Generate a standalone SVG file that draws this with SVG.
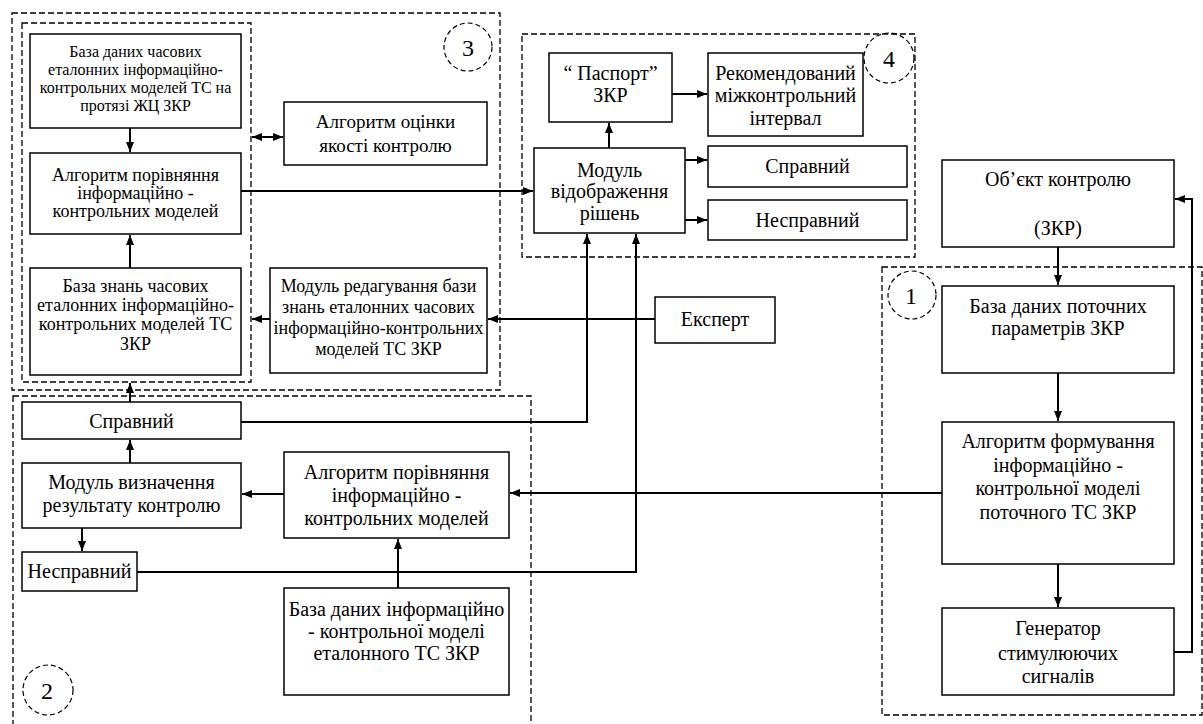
<svg xmlns="http://www.w3.org/2000/svg" width="1203" height="724" viewBox="0 0 1203 724">
<defs>
<style>
.box{fill:#fff;stroke:#000;stroke-width:1.5}
.dash{fill:none;stroke:#000;stroke-width:1.3;stroke-dasharray:6 3}
.circ{fill:none;stroke:#000;stroke-width:1.2;stroke-dasharray:5 3}
.ln{fill:none;stroke:#000;stroke-width:2}
.arr{marker-end:url(#ah)}
text{font-family:"Liberation Serif","Times New Roman",serif;fill:#000;text-anchor:middle}
.f16{font-size:16px}.f18{font-size:18px}.f19{font-size:19px}.f20{font-size:20px}.f24{font-size:24px}
</style>
<marker id="ah" viewBox="0 0 10 8" refX="10" refY="4" markerWidth="10" markerHeight="8" markerUnits="userSpaceOnUse" orient="auto-start-reverse">
<path d="M0,0 L10,4 L0,8 z" fill="#000"/>
</marker>
</defs>
<rect width="1203" height="724" fill="#fff"/>
<g id="groups">
<rect class="dash" x="12" y="13" width="488" height="377"/>
<rect class="dash" x="22" y="23" width="229" height="359"/>
<rect class="dash" x="522" y="34" width="393" height="223"/>
<rect class="dash" x="13" y="396" width="518" height="340"/>
<rect class="dash" x="882" y="267" width="320" height="448"/>
<circle class="circ" cx="468" cy="47" r="24"/><text class="f24" x="468" y="56">3</text>
<circle class="circ" cx="889" cy="58" r="25"/><text class="f24" x="889" y="67">4</text>
<circle class="circ" cx="912" cy="295" r="24"/><text class="f24" x="911" y="304">1</text>
<circle class="circ" cx="48" cy="690" r="25"/><text class="f24" x="47" y="699">2</text>
</g>
<g id="connectors">
<path class="ln arr" d="M130,128 V152"/>
<path class="ln arr" d="M130,268 V235"/>
<path class="ln arr" d="M252,137 H283" marker-start="url(#ah)"/>
<path class="ln arr" d="M241,191 H533"/>
<path class="ln arr" d="M609,148 V123"/>
<path class="ln arr" d="M672,94 H707"/>
<path class="ln arr" d="M685,160 H707"/>
<path class="ln arr" d="M685,220 H707"/>
<path class="ln arr" d="M241,422 H587 V234"/>
<path class="ln arr" d="M137,572 H636 V234"/>
<path class="ln arr" d="M655,319 H488"/>
<path class="ln arr" d="M270,319 H252"/>
<path class="ln arr" d="M130,402 V383"/>
<path class="ln arr" d="M130,463 V440"/>
<path class="ln arr" d="M284,494 H242"/>
<path class="ln arr" d="M82,528 V551"/>
<path class="ln arr" d="M398,588 V539"/>
<path class="ln arr" d="M942,493 H510"/>
<path class="ln arr" d="M1058,247 V285"/>
<path class="ln arr" d="M1058,373 V421"/>
<path class="ln arr" d="M1058,564 V607"/>
<path class="ln arr" d="M1174,652 H1192 V199 H1175"/>
</g>
<g id="n-bd-chasovykh">
<rect class="box" x="30" y="34" width="211" height="94"/>
<text class="f16" x="135.5" y="57">База даних часових</text>
<text class="f16" x="135.5" y="75">еталонних інформаційно-</text>
<text class="f16" x="135.5" y="93">контрольних моделей ТС на</text>
<text class="f16" x="135.5" y="111">протязі ЖЦ ЗКР</text>
</g>
<g id="n-alg-porivn-3">
<rect class="box" x="30" y="153" width="211" height="81"/>
<text class="f18" x="135.5" y="181">Алгоритм порівняння</text>
<text class="f18" x="135.5" y="199">інформаційно -</text>
<text class="f18" x="135.5" y="217">контрольних моделей</text>
</g>
<g id="n-bz-chasovykh">
<rect class="box" x="30" y="268" width="211" height="107"/>
<text class="f18" x="135.5" y="292">База знань часових</text>
<text class="f18" x="135.5" y="311">еталонних інформаційно-</text>
<text class="f18" x="135.5" y="330">контрольних моделей ТС</text>
<text class="f18" x="135.5" y="350">ЗКР</text>
</g>
<g id="n-alg-otsinky">
<rect class="box" x="284" y="102" width="203" height="63"/>
<text class="f19" x="385.5" y="128">Алгоритм оцінки</text>
<text class="f19" x="385.5" y="152">якості контролю</text>
</g>
<g id="n-modul-red">
<rect class="box" x="270" y="268" width="217" height="105"/>
<text class="f18" x="378.5" y="292">Модуль редагування бази</text>
<text class="f18" x="378.5" y="313">знань еталонних часових</text>
<text class="f18" x="378.5" y="334">інформаційно-контрольних</text>
<text class="f18" x="378.5" y="355">моделей ТС ЗКР</text>
</g>
<g id="n-pasport">
<rect class="box" x="549" y="53" width="123" height="69"/>
<text class="f20" x="610.5" y="80">“ Паспорт”</text>
<text class="f20" x="610.5" y="102">ЗКР</text>
</g>
<g id="n-rekom">
<rect class="box" x="708" y="53" width="155" height="83"/>
<text class="f20" x="785.5" y="80">Рекомендований</text>
<text class="f20" x="785.5" y="102">міжконтрольний</text>
<text class="f20" x="785.5" y="125">інтервал</text>
</g>
<g id="n-modul-vidobr">
<rect class="box" x="534" y="148" width="151" height="85"/>
<text class="f20" x="609.5" y="177">Модуль</text>
<text class="f20" x="609.5" y="198">відображення</text>
<text class="f20" x="609.5" y="220">рішень</text>
</g>
<g id="n-spravnyi-4">
<rect class="box" x="708" y="146" width="199" height="41"/>
<text class="f20" x="807.5" y="173">Справний</text>
</g>
<g id="n-nespravnyi-4">
<rect class="box" x="708" y="200" width="199" height="40"/>
<text class="f20" x="807.5" y="227">Несправний</text>
</g>
<g id="n-ekspert">
<rect class="box" x="655" y="297" width="120" height="46"/>
<text class="f20" x="715" y="326">Експерт</text>
</g>
<g id="n-spravnyi-2">
<rect class="box" x="22" y="402" width="219" height="37"/>
<text class="f20" x="131.5" y="428">Справний</text>
</g>
<g id="n-modul-vyzn">
<rect class="box" x="22" y="463" width="219" height="65"/>
<text class="f20" x="131.5" y="489">Модуль визначення</text>
<text class="f20" x="131.5" y="512">результату контролю</text>
</g>
<g id="n-nespravnyi-2">
<rect class="box" x="22" y="552" width="115" height="39"/>
<text class="f20" x="79.5" y="578">Несправний</text>
</g>
<g id="n-alg-porivn-2">
<rect class="box" x="284" y="452" width="225" height="86"/>
<text class="f20" x="396.5" y="479">Алгоритм порівняння</text>
<text class="f20" x="396.5" y="502">інформаційно -</text>
<text class="f20" x="396.5" y="525">контрольних моделей</text>
</g>
<g id="n-bd-inform">
<rect class="box" x="284" y="588" width="225" height="107"/>
<text class="f20" x="396.5" y="616">База даних інформаційно</text>
<text class="f20" x="396.5" y="638">- контрольної моделі</text>
<text class="f20" x="396.5" y="660">еталонного ТС ЗКР</text>
</g>
<g id="n-obiekt">
<rect class="box" x="942" y="160" width="232" height="87"/>
<text class="f20" x="1058" y="186">Об’єкт контролю</text>
<text class="f20" x="1058" y="235">(ЗКР)</text>
</g>
<g id="n-bd-potochnykh">
<rect class="box" x="942" y="286" width="232" height="87"/>
<text class="f20" x="1058" y="313">База даних поточних</text>
<text class="f20" x="1058" y="335">параметрів ЗКР</text>
</g>
<g id="n-alg-form">
<rect class="box" x="942" y="422" width="232" height="142"/>
<text class="f20" x="1058" y="448">Алгоритм формування</text>
<text class="f20" x="1058" y="472">інформаційно -</text>
<text class="f20" x="1058" y="495">контрольної моделі</text>
<text class="f20" x="1058" y="519">поточного ТС ЗКР</text>
</g>
<g id="n-generator">
<rect class="box" x="942" y="608" width="232" height="87"/>
<text class="f20" x="1058" y="635">Генератор</text>
<text class="f20" x="1058" y="660">стимулюючих</text>
<text class="f20" x="1058" y="683">сигналів</text>
</g>
</svg>
